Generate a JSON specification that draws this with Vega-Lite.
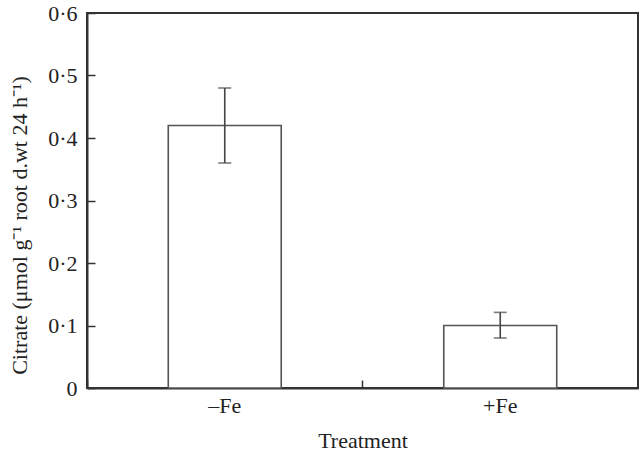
{
  "$schema": "https://vega.github.io/schema/vega-lite/v6.json",
  "autosize": {"type": "none"},
  "width": 551,
  "height": 375,
  "padding": {"left": 87, "top": 13, "right": 2, "bottom": 65},
  "background": "white",
  "data": {"values": [
    {"treatment": "–Fe", "mean": 0.42, "lo": 0.36, "hi": 0.48},
    {"treatment": "+Fe", "mean": 0.10, "lo": 0.08, "hi": 0.121}
  ]},
  "encoding": {
    "x": {
      "field": "treatment", "type": "nominal", "sort": null,
      "scale": {"paddingInner": 0, "paddingOuter": 0},
      "axis": {"title": "Treatment", "labelAngle": 0, "bandPosition": 0, "tickSize": -8, "labelPadding": 15, "titlePadding": 14}
    }
  },
  "layer": [
    {
      "mark": {"type": "bar", "fill": "white", "stroke": "#555", "strokeWidth": 1.6, "width": {"band": 0.41}},
      "encoding": {
        "y": {
          "field": "mean", "type": "quantitative",
          "scale": {"domain": [0, 0.6], "nice": false},
          "axis": {
            "title": "Citrate (μmol g⁻¹ root d.wt 24 h⁻¹)",
            "values": [0, 0.1, 0.2, 0.3, 0.4, 0.5, 0.6],
            "labelExpr": "datum.value == 0 ? '0' : replace(format(datum.value, '.1f'), '.', '·')",
            "tickSize": -8, "labelPadding": 18, "titlePadding": 16, "titleY": 212, "grid": false
          }
        }
      }
    },
    {
      "mark": {"type": "rule", "stroke": "#444", "strokeWidth": 1.6},
      "encoding": {"y": {"field": "lo", "type": "quantitative"}, "y2": {"field": "hi"}}
    },
    {
      "mark": {"type": "tick", "color": "#444", "size": 13, "thickness": 1.6, "orient": "horizontal"},
      "encoding": {"y": {"field": "lo", "type": "quantitative"}}
    },
    {
      "mark": {"type": "tick", "color": "#444", "size": 13, "thickness": 1.6, "orient": "horizontal"},
      "encoding": {"y": {"field": "hi", "type": "quantitative"}}
    }
  ],
  "config": {
    "view": {"stroke": "#333", "strokeWidth": 2},
    "font": "Liberation Serif",
    "axis": {
      "domainColor": "#333", "domainWidth": 2,
      "tickColor": "#333", "tickWidth": 1.5,
      "labelFont": "Liberation Serif", "labelFontSize": 22, "labelColor": "#222",
      "titleFont": "Liberation Serif", "titleFontSize": 22, "titleFontWeight": "normal", "titleColor": "#222"
    }
  }
}
